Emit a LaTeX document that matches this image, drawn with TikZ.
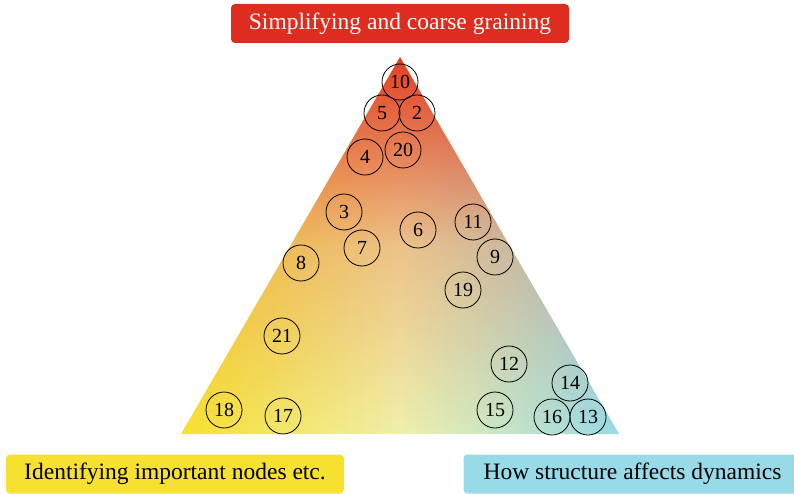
\documentclass[tikz,border=0pt]{standalone}
\usepackage{fontspec}
\setmainfont{Liberation Serif}
\usetikzlibrary{fadings}
\definecolor{topred}{RGB}{222,44,32}
\definecolor{apexred}{RGB}{226,64,38}
\definecolor{leftyellow}{RGB}{247,225,48}
\definecolor{rightblue}{RGB}{152,218,232}
\definecolor{paleyellow}{RGB}{240,240,172}
\tikzset{
  tag/.style = {rounded corners=4pt, minimum width=338pt,
    minimum height=39pt, inner sep=0pt,
    font=\fontsize{23.5}{28}\selectfont},
  num/.style = {circle, draw=black, line width=0.8pt,
    minimum size=36pt, inner sep=0pt,
    font=\fontsize{20}{24}\selectfont}
}
% red fades out towards the base
\begin{tikzfadingfrompicture}[name=redfade]
  \shade [top color=transparent!0, bottom color=transparent!100,
    middle color=transparent!74] (-219pt,-188.5pt) rectangle (219pt,188.5pt);
\end{tikzfadingfrompicture}
\begin{document}
\begin{tikzpicture}[x=1pt, y=1pt]
\useasboundingbox (0,0) rectangle (794,493);
% corners of the triangle
\coordinate (apex) at (400,436);
\coordinate (bl) at (181,59);
\coordinate (br) at (619,59);
\begin{scope}
\clip (apex) -- (bl) -- (br) -- cycle;
\shade [left color=leftyellow, right color=rightblue,
  middle color=paleyellow] (181,59) rectangle (619,436);
\fill [apexred, path fading=redfade, fit fading=false,
  fading transform={shift={(400pt,247.5pt)}}]
  (181,59) rectangle (619,436);
\end{scope}
% the three corner labels
\node [tag, fill=topred, text=white] (simp) at (400,469.5)
  {Simplifying and coarse graining};
\node [tag, fill=leftyellow] (ident) at (175,19)
  {Identifying important nodes etc.};
\node [tag, fill=rightblue] (dyn) at (632.5,19)
  {How structure affects dynamics};
% numbered circles
\node [num] (n10) at (400,411) {10};
\node [num] (n5) at (382,380) {5};
\node [num] (n2) at (417,380) {2};
\node [num] (n20) at (403,343) {20};
\node [num] (n4) at (365,336) {4};
\node [num] (n3) at (344,281) {3};
\node [num] (n6) at (418,263) {6};
\node [num] (n11) at (473,271) {11};
\node [num] (n7) at (362,245) {7};
\node [num] (n9) at (495,236) {9};
\node [num] (n8) at (301,230) {8};
\node [num] (n19) at (463,203) {19};
\node [num] (n21) at (282,157) {21};
\node [num] (n12) at (509,129) {12};
\node [num] (n14) at (570,110) {14};
\node [num] (n15) at (495,83) {15};
\node [num] (n16) at (552,76) {16};
\node [num] (n13) at (588,76) {13};
\node [num] (n18) at (224,83) {18};
\node [num] (n17) at (283,77) {17};
\end{tikzpicture}
\end{document}
